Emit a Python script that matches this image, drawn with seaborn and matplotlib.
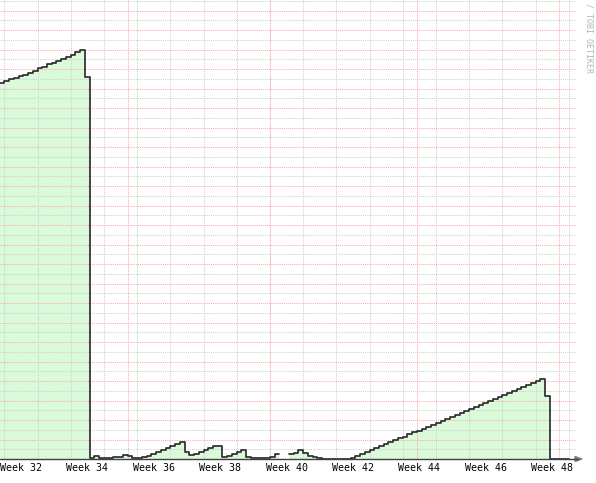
import matplotlib.pyplot as plt
import numpy as np
import pandas as pd
import seaborn as sns
from matplotlib.lines import Line2D
from matplotlib.patches import Polygon
from matplotlib.ticker import MultipleLocator

# one value per day, day 0 = start of week 32; days 58-59 unknown
early = [193.0, 193.8, 194.9, 195.5, 196.4, 197.1, 198.1, 199.1, 200.4, 201.2,
         202.4, 203.1, 204.1, 205.1, 206.3, 207.2, 208.6, 210.0, 195.9]
quiet = [0.6, 1.5, 0.7, 0.5, 0.6, 0.8, 1.0, 2.0, 1.7, 0.6,
         0.6, 0.8, 1.5, 2.5, 3.5, 4.5, 5.5, 6.5, 7.5, 8.7,
         3.5, 2.0, 2.5, 3.5, 4.5, 5.5, 6.7, 6.7, 1.0, 1.5,
         2.5, 3.5, 4.6, 1.2, 0.7, 0.6, 0.5, 0.5, 1.2, 2.5]
unknown = [np.nan, np.nan]
late = [2.8, 3.0, 4.5, 3.0, 1.5, 1.0, 0.3,
        0.0, 0.0, 0.0, 0.0, 0.0, 0.0,
        0.6, 1.6, 2.5, 3.6, 4.6, 5.5, 6.6, 7.6, 8.5, 9.6,
        10.6, 11.5, 12.6, 13.6, 14.6, 15.6, 16.5, 17.6, 18.6, 19.6,
        20.5, 21.6, 22.6, 23.6, 24.7, 25.6, 26.6, 27.7, 28.7, 29.7,
        30.7, 31.7, 32.8, 33.8, 34.8, 35.8, 36.9, 37.9, 38.9, 39.9,
        41.0, 32.3,
        0.0, 0.0, 0.0, 0.0]
first_day = -1
week_labels = ["Week 32", "Week 34", "Week 36", "Week 38", "Week 40",
               "Week 42", "Week 44", "Week 46", "Week 48"]
month_starts = [26, 56, 87, 117]
watermark = "/ TOBI OETIKER"

values = early + quiet + unknown + late
days = np.arange(first_day, first_day + len(values))

series = pd.DataFrame({"day": days, "value": values})
series["seg"] = series["value"].isna().cumsum()
series = series.dropna()
closing = series.groupby("seg").tail(1).assign(day=lambda d: d["day"] + 1)
line_df = pd.concat([series, closing]).sort_values(["seg", "day"])

sns.set_theme(style="white")
plt.rcParams["font.family"] = ["DejaVu Sans Mono", "DejaVu Sans"]

W, H = 596, 483
px_day = 33.2 / 7
fig = plt.figure(figsize=(W / 100, H / 100), dpi=100, facecolor="white")
ax = fig.add_axes([0, 24 / H, 576 / W, 459 / H])

for seg, g in line_df.groupby("seg"):
    ax.fill_between(g["day"], g["value"], step="post", color="#dafada",
                    linewidth=0, zorder=1)
sns.lineplot(data=line_df, x="day", y="value", units="seg", estimator=None,
             drawstyle="steps-post", color="#2e2e2e", lw=1.25, ax=ax, zorder=4)

ax.set_xlim(-4.3 / px_day, (576 - 4.3) / px_day)
ax.set_ylim(0, 459 / 1.95)

# grid
ax.xaxis.set_minor_locator(MultipleLocator(7))
ax.yaxis.set_major_locator(MultipleLocator(10))
ax.yaxis.set_minor_locator(MultipleLocator(5))
ax.xaxis.grid(True, which="minor", color="#d0d0d0", lw=0.75,
              ls=(0, (1, 1)), zorder=2)
ax.yaxis.grid(True, which="minor", color="#d0d0d0", lw=0.75,
              ls=(0, (1, 1)), zorder=2)
ax.yaxis.grid(True, which="major", color="#ffaaaa", lw=0.75,
              ls=(0, (1, 1)), zorder=3)
for m in month_starts:
    ax.axvline(m, color="#ffaaaa", lw=0.75, ls=(0, (1, 1)), zorder=3)
ax.set_axisbelow(False)

ax.set_xticks([3.5 + 14 * i for i in range(len(week_labels))],
              labels=week_labels)
ax.tick_params(axis="x", which="both", length=0, pad=3,
               labelsize=7.2, labelcolor="black")
ax.tick_params(axis="y", which="both", length=0, labelleft=False)
ax.set_xlabel(None)
ax.set_ylabel(None)
for s in ax.spines.values():
    s.set_visible(False)

# x axis line with arrow
fig.add_artist(Line2D([0, 578 / W], [24 / H, 24 / H], color="#404040", lw=1))
fig.add_artist(Polygon([(575 / W, 26.5 / H), (575 / W, 21.5 / H),
                        (582 / W, 24 / H)], closed=True, color="#808080"))

fig.text(589 / W, 1 - 38 / H, watermark, rotation=270,
         ha="center", va="center", fontsize=6, color="#b4b4b4")

plt.savefig("out.png", dpi=100)
